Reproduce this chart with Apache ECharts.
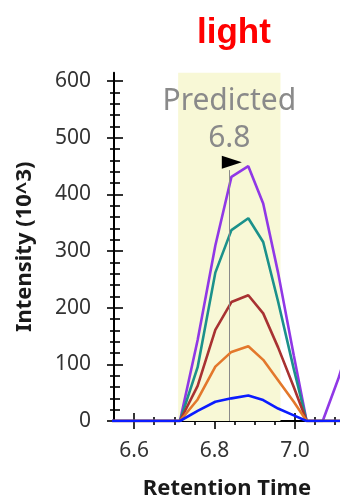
<!DOCTYPE html>
<html>
<head>
<meta charset="utf-8">
<script src="https://cdn.jsdelivr.net/npm/echarts@6/dist/echarts.min.js"></script>
<style>
  html, body { margin: 0; padding: 0; background: #ffffff; }
  #chart { width: 340px; height: 499px; }
</style>
</head>
<body>
<div id="chart"></div>
<script>
// Retention times (minutes) of the chromatogram samples
var retentionTimes = [6.51, 6.55, 6.59, 6.63, 6.67, 6.714, 6.758, 6.802, 6.842, 6.884, 6.921, 6.958, 6.997, 7.029, 7.069, 7.108, 7.15];

// Intensities (10^3) per transition
var purpleTrace = [0, 0, 0, 0, 0, 0, 143, 310, 431, 450, 384, 262, 116, 0, 0, 75, 170];
var tealTrace   = [0, 0, 0, 0, 0, 0, 95, 262, 337, 358, 316, 211, 92, 0, 0, 0, 0];
var brownTrace  = [0, 0, 0, 0, 0, 0, 62, 161, 210, 222, 190, 130, 60, 0, 0, 0, 0];
var orangeTrace = [0, 0, 0, 0, 0, 0, 38, 96, 122, 132, 108, 72, 34, 0, 0, 0, 0];
var blueTrace   = [0, 0, 0, 0, 0, 0, 18, 34, 40, 45, 37, 22, 10, 0, 0, 0, 0];

var traceNames  = ['t1', 't2', 't3', 't4', 't5'];
var traceColors = ['#9038e6', '#1b918b', '#a83232', '#e3782c', '#0b1cff'];

// Predicted retention time and its integration window
var predictedRT = 6.836;
var windowStart = 6.7095;
var windowEnd = 6.964;
var flagHeight = 457;
var poleTop = 443;

// Axis ticks
var xMajorTicks = [6.6, 6.8, 7.0];
var xMinorTicks = [6.65, 6.7, 6.75, 6.85, 6.9, 6.95, 7.05, 7.1];
var yMajorTicks = [0, 100, 200, 300, 400, 500, 600];
var yMinorTicks = [20, 40, 60, 80, 120, 140, 160, 180, 220, 240, 260, 280,
                   320, 340, 360, 380, 420, 440, 460, 480, 520, 540, 560, 580];

var xMin = 6.55, xMax = 7.112;
var yMin = 0, yMax = 615;

var tickFont = 'Noto Sans';

function pairs(values) {
  return retentionTimes.map(function (t, i) { return [t, values[i]]; });
}

function xAxisLayer(ticks, inside, len, withLabels, withLine) {
  return {
    type: 'value', position: 'bottom', min: xMin, max: xMax,
    axisLine: { show: withLine, onZero: false, lineStyle: { color: '#000', width: 2 } },
    axisTick: { show: true, inside: inside, length: len, customValues: ticks,
                lineStyle: { color: '#000', width: 1.6 } },
    axisLabel: withLabels ? {
      show: true, customValues: ticks, margin: 20,
      fontFamily: tickFont, fontSize: 21, color: '#333',
      formatter: function (v) { return v.toFixed(1); }
    } : { show: false },
    splitLine: { show: false }
  };
}

function yAxisLayer(ticks, inside, len, withLabels, withLine) {
  return {
    type: 'value', position: 'left', min: yMin, max: yMax,
    axisLine: { show: withLine, onZero: false, lineStyle: { color: '#000', width: 2 } },
    axisTick: { show: true, inside: inside, length: len, customValues: ticks,
                lineStyle: { color: '#000', width: 1.6 } },
    axisLabel: withLabels ? {
      show: true, customValues: ticks, margin: 23,
      fontFamily: tickFont, fontSize: 21, color: '#333'
    } : { show: false },
    splitLine: { show: false }
  };
}

var xAxes = [
  xAxisLayer(xMajorTicks, false, 8, true, true),
  xAxisLayer(xMajorTicks, true, 8, false, false),
  xAxisLayer(xMinorTicks, false, 4, false, false),
  xAxisLayer(xMinorTicks, true, 4, false, false)
];
xAxes[0].name = 'Retention Time';
xAxes[0].nameLocation = 'middle';
xAxes[0].nameGap = 57;
xAxes[0].nameTextStyle = { fontFamily: tickFont, fontWeight: 'bold', fontSize: 22, color: '#1a1a1a' };

var yAxes = [
  yAxisLayer(yMajorTicks, false, 7, true, true),
  yAxisLayer(yMajorTicks, true, 9, false, false),
  yAxisLayer(yMinorTicks, false, 4, false, false),
  yAxisLayer(yMinorTicks, true, 6, false, false)
];
yAxes[0].name = 'Intensity (10^3)';
yAxes[0].nameLocation = 'middle';
yAxes[0].nameGap = 78;
yAxes[0].nameTextStyle = { fontFamily: tickFont, fontWeight: 'bold', fontSize: 22, color: '#1a1a1a' };

var traces = [purpleTrace, tealTrace, brownTrace, orangeTrace, blueTrace];
var series = traces.map(function (values, i) {
  return {
    name: traceNames[i], type: 'line', data: pairs(values),
    xAxisIndex: 0, yAxisIndex: 0,
    showSymbol: false, symbol: 'none', clip: true,
    lineStyle: { color: traceColors[i], width: 2.6 },
    itemStyle: { color: traceColors[i] },
    z: 2 + i
  };
});

// Shaded window, predicted-time pole and flag
series[0].markArea = {
  silent: true,
  itemStyle: { color: '#f8f8d6' },
  label: {
    show: true, position: 'insideTop', distance: 10,
    fontFamily: tickFont, fontSize: 30, lineHeight: 37, color: '#8a8a8a'
  },
  data: [[{ xAxis: windowStart, name: 'Predicted\n' + predictedRT.toFixed(1) }, { xAxis: windowEnd }]]
};
series[4].markLine = {
  silent: true, symbol: 'none',
  lineStyle: { color: '#8a8a8a', width: 1, type: 'solid' },
  label: { show: false },
  data: [[{ coord: [predictedRT, 0] }, { coord: [predictedRT, poleTop] }]]
};
series[4].markPoint = {
  silent: true,
  symbol: 'triangle', symbolRotate: -90, symbolSize: [13, 20],
  itemStyle: { color: '#000' },
  label: { show: false },
  data: [{ coord: [predictedRT + 0.007, flagHeight] }]
};

var chart = echarts.init(document.getElementById('chart'), null, { renderer: 'canvas' });
chart.setOption({
  backgroundColor: '#ffffff',
  animation: false,
  title: {
    text: 'light', left: 197, top: 16, padding: 0,
    textStyle: { fontFamily: 'Liberation Sans', fontWeight: 'bold', fontSize: 35, color: '#ff0000' }
  },
  grid: { left: 114, right: 0, top: 72.7, bottom: 78, outerBoundsMode: 'none', containLabel: false },
  xAxis: xAxes,
  yAxis: yAxes,
  series: series
});
</script>
</body>
</html>
